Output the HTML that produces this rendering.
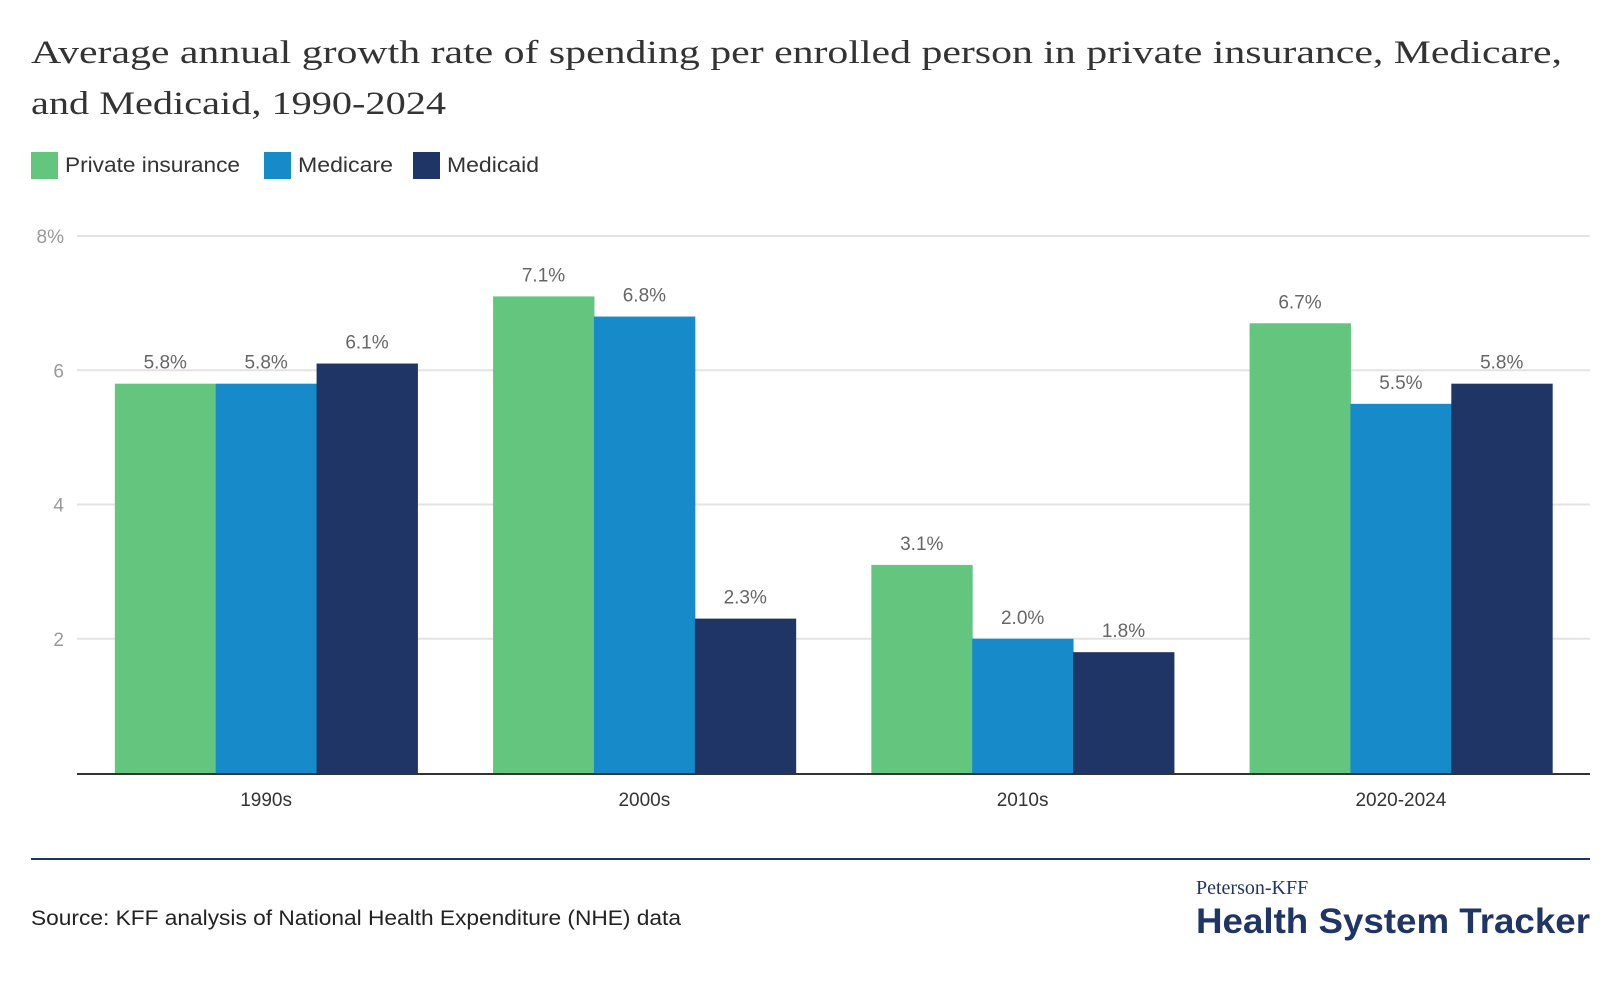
<!DOCTYPE html>
<html><head><meta charset="utf-8"><style>
html,body{margin:0;padding:0;background:#fff;}
svg{display:block;font-family:"Liberation Sans",sans-serif;}
</style></head><body>
<svg id="chart" width="1620" height="998" viewBox="0 0 1620 998" xmlns="http://www.w3.org/2000/svg">
<text x="31" y="63" font-family="Liberation Serif, serif" font-size="33" fill="#333" textLength="1531" lengthAdjust="spacingAndGlyphs">Average annual growth rate of spending per enrolled person in private insurance, Medicare,</text>
<text x="31" y="114" font-family="Liberation Serif, serif" font-size="33" fill="#333" textLength="415" lengthAdjust="spacingAndGlyphs">and Medicaid, 1990-2024</text>
<g id="legend"></g>
<g id="grid"></g>
<g id="bars"></g>
<g id="xlabels"></g>
<line x1="31" y1="859" x2="1590" y2="859" stroke="#1f3566" stroke-width="2"/>
<text x="31" y="925" font-size="21" fill="#222" textLength="650" lengthAdjust="spacingAndGlyphs">Source: KFF analysis of National Health Expenditure (NHE) data</text>
<text x="1196" y="894" font-family="Liberation Serif, serif" font-size="20" fill="#1f3566">Peterson-KFF</text>
<text x="1196" y="933" font-size="35" font-weight="bold" fill="#1f3566" textLength="394" lengthAdjust="spacingAndGlyphs">Health System Tracker</text>
</svg>
<script>
const categories = ["1990s","2000s","2010s","2020-2024"];
const seriesNames = ["Private insurance","Medicare","Medicaid"];
const privateInsurance = [5.8,7.1,3.1,6.7];
const medicare = [5.8,6.8,2.0,5.5];
const medicaid = [6.1,2.3,1.8,5.8];
const yTicks = [2,4,6,8];
const yTickLabels = ["2","4","6","8%"];

const colors = ["#64c57f","#178ac9","#1f3566"];
const series = [privateInsurance, medicare, medicaid];
const NS = "http://www.w3.org/2000/svg";
const plotL = 77, plotR = 1590, y0 = 773, yTop = 236, yMax = 8;
const y = v => y0 - (v / yMax) * (y0 - yTop);
const groupW = (plotR - plotL) / categories.length;
const barW = groupW * 0.8 / 3;
const x = (ci, si) => plotL + groupW * ci + groupW * 0.1 + barW * si;
function mk(tag, attrs, parent) {
  const e = document.createElementNS(NS, tag);
  for (const k in attrs) e.setAttribute(k, attrs[k]);
  parent.appendChild(e);
  return e;
}
const grid = document.getElementById('grid');
yTicks.forEach((t, i) => {
  const l = mk('line', {x1: plotL, x2: plotR, y1: y(t), y2: y(t), stroke: '#e3e3e3', 'stroke-width': 2}, grid);
  
  
  const tx = mk('text', {x: 64, y: y(t) + 7, 'text-anchor': 'end', 'font-size': 19, fill: '#999'}, grid);
  tx.textContent = yTickLabels[i];
  
  
});
const bars = document.getElementById('bars');
series.forEach((vals, si) => {
  vals.forEach((v, ci) => {
    const r = mk('rect', {x: x(ci, si), y: y(v), width: barW + 0.5, height: y0 - y(v), fill: colors[si]}, bars);
    
    
    const t = mk('text', {x: x(ci, si) + barW / 2, y: y(v) - 15, 'text-anchor': 'middle', 'font-size': 19, fill: '#666'}, bars);
    t.textContent = v.toFixed(1) + '%';
    
    
  });
});
const axis = mk('line', {x1: plotL, x2: plotR, y1: y0 + 1, y2: y0 + 1, stroke: '#333', 'stroke-width': 2}, bars);


const xl = document.getElementById('xlabels');
categories.forEach((c, ci) => {
  const t = mk('text', {x: plotL + groupW * (ci + 0.5), y: 806, 'text-anchor': 'middle', 'font-size': 19, fill: '#333'}, xl);
  t.textContent = c;
  
  
});
const lg = document.getElementById('legend');
const lx = [31, 264, 413];
const lw = [175, 95, 92];
seriesNames.forEach((n, i) => {
  const r = mk('rect', {x: lx[i], y: 152, width: 27, height: 27, fill: colors[i]}, lg);
  
  
  const t = mk('text', {x: lx[i] + 34, y: 172, 'font-size': 21, fill: '#333', textLength: lw[i], lengthAdjust: 'spacingAndGlyphs'}, lg);
  t.textContent = n;
  
  
});
</script>
</body></html>
